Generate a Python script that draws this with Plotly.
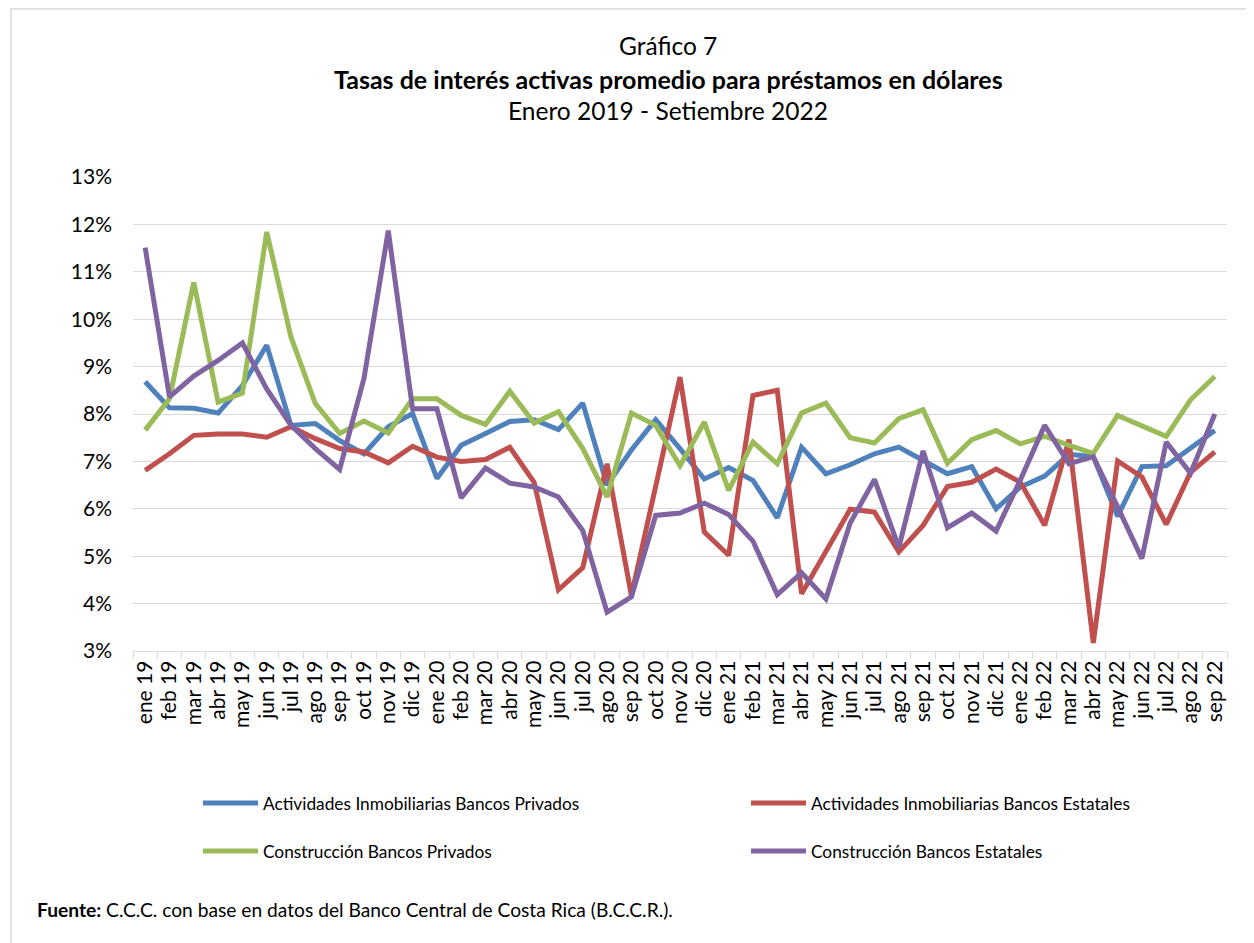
import plotly.graph_objects as go

# Monthly categories, ene 2019 - sep 2022
months = [
    "ene 19", "feb 19", "mar 19", "abr 19", "may 19", "jun 19", "jul 19", "ago 19", "sep 19", "oct 19", "nov 19", "dic 19",
    "ene 20", "feb 20", "mar 20", "abr 20", "may 20", "jun 20", "jul 20", "ago 20", "sep 20", "oct 20", "nov 20", "dic 20",
    "ene 21", "feb 21", "mar 21", "abr 21", "may 21", "jun 21", "jul 21", "ago 21", "sep 21", "oct 21", "nov 21", "dic 21",
    "ene 22", "feb 22", "mar 22", "abr 22", "may 22", "jun 22", "jul 22", "ago 22", "sep 22",
]

# Rates in percent
inmob_privados = [
    8.68, 8.13, 8.12, 8.02, 8.60, 9.45, 7.76, 7.80, 7.44, 7.16, 7.73, 8.01,
    6.64, 7.34, 7.59, 7.84, 7.88, 7.67, 8.23, 6.50, 7.24, 7.88, 7.27, 6.63,
    6.87, 6.60, 5.81, 7.30, 6.74, 6.93, 7.16, 7.30, 7.02, 6.74, 6.89, 6.00,
    6.46, 6.69, 7.15, 7.10, 5.84, 6.89, 6.91, 7.27, 7.65,
]
inmob_estatales = [
    6.81, 7.16, 7.55, 7.58, 7.58, 7.51, 7.73, 7.48, 7.27, 7.20, 6.97, 7.32,
    7.09, 7.00, 7.04, 7.30, 6.56, 4.29, 4.76, 6.95, 4.17, 6.50, 8.78, 5.51,
    5.02, 8.39, 8.50, 4.21, 5.12, 5.99, 5.93, 5.09, 5.65, 6.47, 6.56, 6.84,
    6.56, 5.65, 7.46, 3.17, 7.01, 6.67, 5.67, 6.77, 7.20,
]
constr_privados = [
    7.66, 8.32, 10.78, 8.25, 8.44, 11.84, 9.62, 8.22, 7.59, 7.85, 7.60, 8.32,
    8.32, 7.97, 7.78, 8.48, 7.81, 8.05, 7.27, 6.25, 8.02, 7.76, 6.91, 7.83,
    6.39, 7.41, 6.95, 8.02, 8.23, 7.50, 7.39, 7.90, 8.09, 6.96, 7.46, 7.65,
    7.37, 7.53, 7.34, 7.17, 7.97, 7.76, 7.53, 8.30, 8.79,
]
constr_estatales = [
    11.51, 8.36, 8.80, 9.13, 9.50, 8.53, 7.76, 7.27, 6.83, 8.75, 11.87, 8.11,
    8.11, 6.23, 6.86, 6.54, 6.46, 6.25, 5.54, 3.82, 4.14, 5.86, 5.91, 6.12,
    5.88, 5.32, 4.19, 4.65, 4.10, 5.70, 6.62, 5.18, 7.22, 5.60, 5.91, 5.53,
    6.61, 7.76, 6.95, 7.10, 6.04, 4.95, 7.41, 6.75, 8.00,
]

series = [
    ("Actividades Inmobiliarias Bancos Privados", inmob_privados, "#4F81BD"),
    ("Actividades Inmobiliarias Bancos Estatales", inmob_estatales, "#C0504D"),
    ("Construcción Bancos Privados", constr_privados, "#9BBB59"),
    ("Construcción Bancos Estatales", constr_estatales, "#8064A2"),
]

# the page body adds an 8px margin, so positions below are shifted by OFF
OFF = 8
W, H = 1254 - OFF, 943 - OFF
L, R, T, B = 133 - OFF, 1227 - OFF, 177 - OFF, 651 - OFF  # plot area in pixels
FONT = "Lato, 'Open Sans', sans-serif"
GRID = "#d9d9d9"


def px(x):
    return (x - OFF - L) / (R - L)


def py(y):
    return (B - (y - OFF)) / (B - T)


fig = go.Figure()
for name, vals, color in series:
    fig.add_trace(go.Scatter(
        x=months, y=vals, name=name, mode="lines",
        line=dict(color=color, width=5), showlegend=False,
    ))

annotations = [
    dict(text="Gráfico 7", x=px(668), y=py(45), font=dict(size=24.5)),
    dict(text="<b>Tasas de interés activas promedio para préstamos en dólares</b>", x=px(668), y=py(79), font=dict(size=25)),
    dict(text="Enero 2019 - Setiembre 2022", x=px(668), y=py(110), font=dict(size=24.5)),
]
for a in annotations:
    a.update(xref="paper", yref="paper", showarrow=False, xanchor="center", yanchor="middle")

# legend drawn by hand: two columns, two rows
shapes = []
legend_pos = [(203, 803), (751, 803), (203, 851), (751, 851)]
for (name, _, color), (lx, ly) in zip(series, legend_pos):
    shapes.append(dict(type="line", xref="paper", yref="paper",
                       x0=px(lx), x1=px(lx + 55), y0=py(ly), y1=py(ly),
                       line=dict(color=color, width=5)))
    annotations.append(dict(text=name, xref="paper", yref="paper", x=px(lx + 58), y=py(ly),
                            xanchor="left", yanchor="middle", showarrow=False,
                            font=dict(size=17.3)))

annotations.append(dict(
    text="<b>Fuente:</b> C.C.C. con base en datos del Banco Central de Costa Rica (B.C.C.R.).",
    xref="paper", yref="paper", x=px(35), y=py(909), xanchor="left", yanchor="middle",
    showarrow=False, font=dict(size=19.2),
))

# chart border
shapes.append(dict(type="rect", xref="paper", yref="paper",
                   x0=px(11), x1=px(1250), y0=py(9), y1=py(960),
                   line=dict(color=GRID, width=1.5), layer="below"))

fig.update_layout(
    width=W, height=H,
    margin=dict(l=L, r=W - R, t=T, b=H - B, pad=0),
    paper_bgcolor="white", plot_bgcolor="white",
    font=dict(family=FONT, size=21, color="#000000"),
    annotations=annotations, shapes=shapes,
    showlegend=False,
)
fig.update_xaxes(
    type="category", range=[-0.5, len(months) - 0.5],
    tickmode="linear", tick0=0, dtick=1,
    tickangle=-90, tickson="boundaries", ticks="outside", ticklen=7,
    tickcolor=GRID, tickwidth=1.3, showline=True, linecolor=GRID, linewidth=1.3,
    showgrid=False, tickfont=dict(size=21),
)
fig.update_yaxes(
    range=[3, 13], dtick=1, ticksuffix="%", showgrid=True, gridcolor=GRID, gridwidth=1.3,
    zeroline=False, showline=False, ticks="", ticklabelstandoff=20, tickfont=dict(size=21),
)

fig.write_html("out.html")
